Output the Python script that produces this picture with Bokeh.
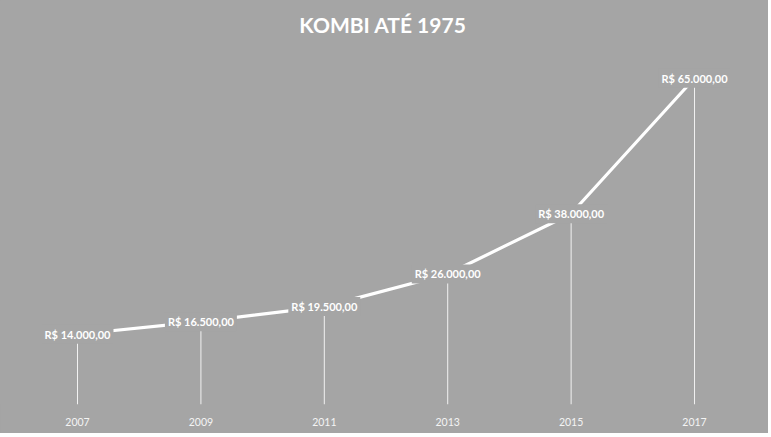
from bokeh.plotting import figure
from bokeh.models import Range1d, ColumnDataSource, Label, FixedTicker
from bokeh.core.properties import value
from bokeh.embed import file_html
from bokeh.resources import INLINE

years = [2007, 2009, 2011, 2013, 2015, 2017]
prices = [14000, 16500, 19500, 26000, 38000, 65000]
labels = ["R$ 14.000,00", "R$ 16.500,00", "R$ 19.500,00", "R$ 26.000,00", "R$ 38.000,00", "R$ 65.000,00"]
title_text = "KOMBI ATÉ 1975"

BG = "#a5a5a5"
W, H = 768, 433

p = figure(width=W, height=H, output_backend="svg", toolbar_location=None,
           x_range=Range1d(2005.752, 2018.199), y_range=Range1d(0, 80485),
           min_border_left=0, min_border_right=0, min_border_top=0, min_border_bottom=29)
p.background_fill_color = BG
p.border_fill_color = BG
p.styles = {"background-color": BG}
p.outline_line_color = None
p.grid.grid_line_color = None
p.yaxis.visible = False

xa = p.xaxis[0]
xa.ticker = FixedTicker(ticks=years)
xa.axis_line_color = None
xa.major_tick_line_color = None
xa.minor_tick_line_color = None
xa.major_label_text_color = "#f4f4f4"
xa.major_label_text_font = "Lato"
xa.major_label_text_font_size = "10.5px"
xa.major_label_standoff = 7

src = ColumnDataSource(dict(x=years, y=prices, zero=[0] * len(years), lab=labels))

p.segment(x0="x", y0="zero", x1="x", y1="y", source=src, line_color="white", line_width=1, line_alpha=0.85)
p.line(x="x", y="y", source=src, line_color="white", line_width=3.2)
p.text(x="x", y="y", text="lab", source=src, text_align="center", text_baseline="middle",
       text_color="white", text_font=value("Lato"), text_font_style="bold", text_font_size="11px",
       background_fill_color=BG, padding=3)

p.add_layout(Label(x=2011.95, y=75703, text=title_text, text_align="center", text_baseline="middle",
                   text_color="white", text_font="Lato", text_font_style="bold", text_font_size="21px"))

open("out.html", "w").write(file_html(p, INLINE))
